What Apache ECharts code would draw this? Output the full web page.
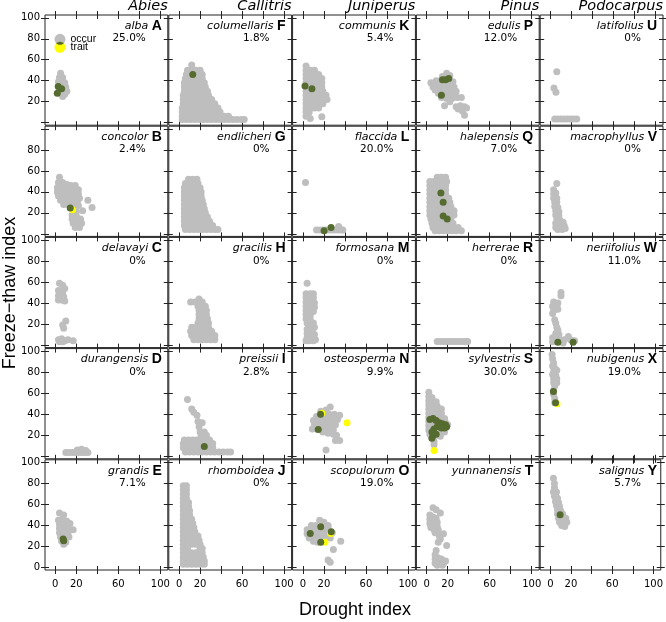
<!DOCTYPE html>
<html><head><meta charset="utf-8">
<script src="https://cdn.jsdelivr.net/npm/echarts@6/dist/echarts.min.js"></script>
<style>html,body{margin:0;padding:0;background:#fff}#c{width:666px;height:622px}</style>
</head><body><div id="c"></div>
<script>
const genera = ['Abies','Callitris','Juniperus','Pinus','Podocarpus'];
const species = ['alba','concolor','delavayi','durangensis','grandis',
  'columellaris','endlicheri','gracilis','preissii','rhomboidea',
  'communis','flaccida','formosana','osteosperma','scopulorum',
  'edulis','halepensis','herrerae','sylvestris','yunnanensis',
  'latifolius','macrophyllus','neriifolius','nubigenus','salignus'];
const letters = ['A','B','C','D','E','F','G','H','I','J','K','L','M','N','O','P','Q','R','S','T','U','V','W','X','Y'];
const percents = ['25.0%','2.4%','0%','0%','7.1%','1.8%','0%','0%','2.8%','0%','5.4%','20.0%','0%','9.9%','19.0%','12.0%','7.0%','0%','30.0%','0%','0%','0%','11.0%','19.0%','5.7%'];
const xTicks = [0,20,40,60,80,100];
const xLabelValues = [0,20,60,100];
const yTicks = [0,20,40,60,80,100];
const yLabelsByRow = [[20,40,60,80,100],[20,40,60,80],[20,40,60,80,100],[20,40,60,80,100],[0,20,40,60,80,100]];
const legendNames = ['occur','trait'];

// ---- Abies ----
const occur_alba = [[5,47],[4,43],[7,43],[3,39],[6,39],[9,38],[3,35],[7,35],[10,34],[4,31],[8,31],[11,30],[5,28],[9,27],[7,25]];
const green_alba = [[2.8,34.5],[6,32.3],[1.9,28.1]];
const yellow_alba = [];
const occur_concolor = [[4,54],[3,49],[7,49],[11,47],[15,46],[19,46],[2,44],[6,45],[10,43],[14,43],[18,42],[22,42],[2,40],[6,40],[10,39],[14,39],[18,38],[22,38],[3,36],[7,36],[11,35],[15,35],[19,34],[23,34],[5,32],[9,32],[13,31],[17,31],[21,31],[31,32],[8,28],[12,28],[18,27],[22,27],[35,25],[26,22],[20,21],[16,18],[20,17],[16,14],[20,13],[24,14],[17,10],[21,9],[25,10],[19,6],[23,6]];
const green_concolor = [[14.2,24.7]];
const yellow_concolor = [[16.4,23]];
const occur_delavayi = [[4,59],[7,57],[9,54],[3,52],[7,50],[3,47],[8,46],[3,43],[6,43],[9,42],[10,23],[7,19],[8,16],[3,5],[6,6],[9,4],[12,5],[17,4],[4,3],[7,3]];
const green_delavayi = [];
const yellow_delavayi = [];
const occur_durangensis = [[10,3.5],[13,3.5],[16,3.5],[19,3.5],[22,3.5],[25,3.5],[28,3.5],[31,3.5],[21,6],[25,6.5],[29,5.5]];
const green_durangensis = [];
const yellow_durangensis = [];
const occur_grandis = [[4,52],[8,50],[3,45],[7,46],[11,44],[14,42],[4,41],[8,41],[12,40],[17,36],[4,37],[8,37],[12,36],[4,33],[8,33],[12,32],[5,29],[9,29],[13,29],[6,25],[10,24],[8,22]];
const green_grandis = [[7.5,27],[8,25.5]];
const yellow_grandis = [];

// ---- Callitris ----
const occur_columellaris = [[12,55],
[8,50],[12,50],[16,50],[20,50],
[7,46],[11,46],[15,46],[19,46],[22,46],
[6,42],[10,42],[14,42],[18,42],[22,42],
[5,38],[9,38],[13,38],[17,38],[21,38],[24,38],
[5,34],[9,34],[13,34],[17,34],[21,34],[25,34],
[5,30],[9,30],[13,30],[17,30],[21,30],[25,30],[27,30],
[4,26],[8,26],[12,26],[16,26],[20,26],[24,26],[28,26],
[4,22],[8,22],[12,22],[16,22],[20,22],[24,22],[28,22],[31,22],
[4,18],[8,18],[12,18],[16,18],[20,18],[24,18],[28,18],[32,18],[34,18],
[3,14],[7,14],[11,14],[15,14],[19,14],[23,14],[27,14],[31,14],[35,14],[37,14],
[3,10],[7,10],[11,10],[15,10],[19,10],[23,10],[27,10],[31,10],[35,10],[39,10],
[3,6],[7,6],[11,6],[15,6],[19,6],[23,6],[27,6],[31,6],[35,6],[39,6],[43,6],[47,6],
[3,3],[7,3],[11,3],[15,3],[19,3],[23,3],[27,3],[31,3],[35,3],[39,3],[43,3],[47,3],[51,3],[55,3],[59,3],[62,3]];
const green_columellaris = [[13,46]];
const yellow_columellaris = [];
const occur_endlicheri = [[9,52],[13,52],[17,52],
[6,48],[10,48],[14,48],[18,48],
[5,44],[9,44],[13,44],[17,44],[20,44],
[5,40],[9,40],[13,40],[17,40],[21,40],
[5,36],[9,36],[13,36],[17,36],[21,36],
[5,32],[9,32],[13,32],[17,32],[21,32],[22,32],
[5,28],[9,28],[13,28],[17,28],[21,28],[23,28],
[5,24],[9,24],[13,24],[17,24],[21,24],[24,24],
[5,20],[9,20],[13,20],[17,20],[21,20],[25,20],
[5,16],[9,16],[13,16],[17,16],[21,16],[25,16],[27,16],
[5,12],[9,12],[13,12],[17,12],[21,12],[25,12],[29,12],
[5,8],[9,8],[13,8],[17,8],[21,8],[25,8],[29,8],[32,8],
[6,4],[10,4],[14,4],[18,4],[22,4],[26,4],[30,4],[34,4],[37,4]];
const green_endlicheri = [];
const yellow_endlicheri = [];
const occur_gracilis = [[19,44],
[11,41],[15,41],[19,41],[22,41],
[18,37],[22,37],[25,37],
[19,33],[23,33],[26,33],
[19,29],[23,29],[26,29],
[19,25],[23,25],[27,25],
[18,21],[22,21],[26,21],[28,21],
[12,17],[16,17],[20,17],[24,17],[28,17],
[11,13],[15,13],[19,13],[23,13],[27,13],[31,13],
[12,9],[16,9],[20,9],[24,9],[28,9],[32,9],[34,9],
[14,5],[18,5],[22,5],[26,5],[30,5],[34,5]];
const green_gracilis = [];
const yellow_gracilis = [];
const occur_preissii = [[8,54],[12,45],[14,42],[17,39],[18,33],[22,32],[19,28],[20,23],[24,23],[26,20],[21,19],
[5,15.5],[9,15.5],[13,15.5],[17,15.5],[21,15.5],[25,15.5],[29,15.5],
[4,12],[8,12],[12,12],[16,12],[20,12],[24,12],[28,12],[32,12],
[4,8],[8,8],[12,8],[16,8],[20,8],[28,8],[32,8],
[6,4],[10,4],[14,4],[18,4],[22,4],[26,4],[30,4],[34,4],[38,4],[42,4],[46,4],[49,4]];
const green_preissii = [[24,9.2]];
const yellow_preissii = [];
const occur_rhomboidea = [[4,78],[7,78],[4,74],[7,74],[4,70],[7,70],[4,66],[7,66],
[4,62],[7,62],[9,62],[4,58],[7,58],[9,58],[4,54],[7,54],[10,54],[4,50],[7,50],[10,50],
[4,46],[7,46],[10,46],[12,46],[4,42],[7,42],[11,42],[13,42],[4,38],[8,38],[12,38],[14,38],
[4,34],[8,34],[12,34],[15,34],[4,30],[8,30],[12,30],[16,30],[18,30],[4,26],[8,26],[12,26],[16,26],[19,26],
[4,22],[8,22],[12,22],[16,22],[20,22],[4,18],[8,18],[20,18],[22,18],
[4,14],[8,14],[12,14],[16,14],[20,14],[22,14],[4,10],[8,10],[12,10],[16,10],[20,10],[23,10],
[4,6],[8,6],[12,6],[16,6],[20,6],[24,6],[4,3],[8,3],[12,3],[16,3],[20,3],[24,3]];
const green_rhomboidea = [];
const yellow_rhomboidea = [];

// ---- Juniperus ----
const occur_communis = [[3,54],[3,50],[7,50],[11,50],
[3,46],[7,46],[11,46],[15,46],[3,42],[7,42],[11,42],[15,42],[18,42],
[3,38],[7,38],[11,38],[15,38],[18,38],[3,34],[7,34],[11,34],[15,34],[18,34],
[3,30],[7,30],[11,30],[15,30],[19,30],[3,26],[7,26],[11,26],[15,26],[19,26],[22,26],
[3,22],[7,22],[11,22],[15,22],[19,22],[23,22],[3,18],[7,18],[11,18],[15,18],[19,18],
[3,14],[7,14],[11,14],[15,14],[3,10],[6,10],[3,6],[7,4],[18,5.5]];
const green_communis = [[2,35],[8.6,32.2]];
const yellow_communis = [];
const occur_flaccida = [[2.5,49],[13,3.5],[16,3.5],[19,3.5],[22,3.5],[25,3.5],[28,3.5],[31,3.5],[34,3.5],[37,3.5],[38,3.5],[34,7]];
const green_flaccida = [[20.2,3],[26.8,6.1]];
const yellow_flaccida = [];
const occur_formosana = [[4,59],[3,49],[7,49],[10,49],[3,45],[7,45],[10,45],[3,41],[7,41],[11,40],[3,37],[7,37],[11,36],[3,33],[7,33],[10,32],[3,29],[7,28],[3,25],[7,24],[10,21],[4,21],[7,18],[11,17],[4,15],[9,13],[4,11],[11,10],[4,7],[8,8],[3,4],[6,4],[10,4],[12,5]];
const green_formosana = [];
const yellow_formosana = [];
const occur_osteosperma = [[26,47],[22,44],[17,43],[13,38],[17,38],[21,39],[25,40],[30,40],[35,39],[10,34],[14,34],[18,34],[22,35],[26,35],[30,35],[33,35],[11,30],[15,30],[19,30],[23,31],[27,31],[31,30],[9,26],[13,26],[17,27],[21,27],[25,27],[29,25],[19,23],[24,22],[29,21],[32,20],[35,15],[31,15],[22,6]];
const green_osteosperma = [[16.8,40],[14.6,25.5]];
const yellow_osteosperma = [[42,32],[18,41]];
const occur_scopulorum = [[16,45],[20,43],[8,40],[12,40],[24,40],[4,36],[8,36],[12,36],[16,36],[20,36],[24,37],[4,32],[8,32],[12,32],[16,32],[20,32],[24,32],[28,33],[6,28],[10,28],[14,28],[18,28],[22,28],[26,28],[10,25],[14,24],[29,17],[36,25],[24,7],[26,5]];
const green_scopulorum = [[7,32.4],[17,38.7],[17,24],[27,34]];
const yellow_scopulorum = [[21,24],[26.5,32.4]];

// ---- Pinus ----
const occur_edulis = [[19,47],[15,44],[22,45],[4,38],[9,40],[13,40],[17,40],[21,41],[25,39],[6,34],[10,36],[14,36],[18,36],[22,35],[26,34],[8,31],[12,32],[16,32],[20,31],[24,31],[28,30],[11,28],[15,28],[19,27],[23,27],[27,26],[14,24],[19,23],[24,23],[29,24],[33,24],[22,20],[17,16],[28,15],[32,16],[36,15],[38,14],[34,11],[36,7],[30,13]];
const green_edulis = [[15,41],[18,41],[21,42],[14,26]];
const yellow_edulis = [];
const occur_halepensis = [[10,54],[14,54],[18,54],
[3,50],[7,50],[11,50],[15,50],[19,50],[3,46],[7,46],[11,46],[15,46],[18,46],
[3,42],[7,42],[11,42],[15,42],[18,42],[3,38],[7,38],[10,38],[18,38],
[3,34],[7,34],[11,34],[14,34],[18,34],[21,34],[3,30],[7,30],[11,30],[19,30],[22,30],
[3,26],[7,26],[11,26],[15,26],[19,26],[23,26],[3,22],[7,22],[11,22],[15,22],[19,22],[23,22],[26,22],
[3,18],[7,18],[11,18],[14,18],[22,18],[26,18],[4,14],[8,14],[11,14],[15,14],[23,14],
[5,10],[9,10],[13,10],[17,10],[21,10],[25,10],[6,6],[10,6],[14,6],[18,6],[22,6],[26,6],[30,6],
[8,3],[12,3],[16,3],[20,3],[24,3],[28,3],[33,3]];
const green_halepensis = [[13.5,39],[15.7,30],[15.7,17],[19.5,14]];
const yellow_halepensis = [];
const occur_herrerae = [[10,3.3],[13,3.3],[16,3.3],[19,3.3],[22,3.3],[25,3.3],[28,3.3],[31,3.3],[34,3.3],[37,3.3],[39,3.3]];
const green_herrerae = [];
const yellow_herrerae = [];
const occur_sylvestris = [[2,61],[2,57],[5,56],[2,53],[6,52],[9,52],[2,49],[6,48],[10,48],[2,45],[6,44],[10,44],[14,45],[2,41],[6,40],[10,40],[14,41],[2,37],[6,36],[10,36],[14,37],[17,36],[2,33],[6,32],[14,33],[18,32],[20,30],[2,29],[10,29],[18,27],[2,25],[6,24],[14,24],[17,23],[3,21],[9,20],[13,19],[5,17],[7,14],[7,11]];
const green_sylvestris = [[3,35],[6,36],[9,34],[12,32],[15,31],[18,30],[19,28],[17,27],[14,27],[10,28],[7,26],[5,23],[6,20],[9,21],[5,17]];
const yellow_sylvestris = [[7,5.5]];
const occur_yunnanensis = [[6,57],[9,55],[13,52],[3,50],[6,48],[9,47],[3,46],[6,44],[10,43],[3,42],[7,40],[10,39],[4,38],[7,36],[11,36],[8,33],[16,32],[12,30],[13,27],[11,24],[19,21],[9,16],[8,12],[8,8],[11,9],[14,8],[8,4],[12,4],[16,4],[18,6],[10,2],[15,2]];
const green_yunnanensis = [];
const yellow_yunnanensis = [];

// ---- Podocarpus ----
const occur_latifolius = [[6,48.6],[3.3,33],[5.2,29],[4,3.5],[7,3.5],[10,3.5],[13,3.5],[16,3.5],[19,3.5],[22,3.5],[25,3.5]];
const green_latifolius = [];
const yellow_latifolius = [];
const occur_macrophyllus = [[6,48],[3,42],[3,38],[5,39],[3,34],[6,34],[4,30],[6,30],[4,26],[7,25],[5,22],[8,21],[5,18],[8,17],[6,14],[9,13],[12,11],[5,10],[8,9],[13,8],[5,6],[9,6],[14,5],[7,4],[11,4]];
const green_macrophyllus = [];
const yellow_macrophyllus = [];
const occur_neriifolius = [[10,50],[10,47],[3,41],[7,40],[2,37],[6,37],[3,33],[7,34],[2,30],[4,24],[5,21],[6,17],[7,14],[5,11],[8,10],[2,7],[5,5],[9,5],[13,5],[17,8],[19,5],[23,4],[2,3],[12,2]];
const green_neriifolius = [[7,2.6],[21.5,2.6]];
const yellow_neriifolius = [];
const occur_nubigenus = [[1.5,97],[2,93],[3,89],[2,86],[4,84],[3,81],[6,82],[2,78],[5,77],[3,74],[6,74],[3,70],[6,70],[4,67],[3,63],[3,59],[4,55],[4,51]];
const green_nubigenus = [[2.8,61.8],[4.8,51]];
const yellow_nubigenus = [[6.2,50]];
const occur_salignus = [[3,85],[4,80],[4,76],[3,72],[6,72],[4,68],[7,66],[5,63],[8,62],[6,59],[9,58],[7,55],[10,54],[7,51],[12,51],[8,47],[12,47],[15,47],[9,43],[13,43],[16,43],[11,40],[14,39]];
const green_salignus = [[9.5,50.3]];
const yellow_salignus = [];

const occurData = [occur_alba,occur_concolor,occur_delavayi,occur_durangensis,occur_grandis,
  occur_columellaris,occur_endlicheri,occur_gracilis,occur_preissii,occur_rhomboidea,
  occur_communis,occur_flaccida,occur_formosana,occur_osteosperma,occur_scopulorum,
  occur_edulis,occur_halepensis,occur_herrerae,occur_sylvestris,occur_yunnanensis,
  occur_latifolius,occur_macrophyllus,occur_neriifolius,occur_nubigenus,occur_salignus];
const greenData = [green_alba,green_concolor,green_delavayi,green_durangensis,green_grandis,
  green_columellaris,green_endlicheri,green_gracilis,green_preissii,green_rhomboidea,
  green_communis,green_flaccida,green_formosana,green_osteosperma,green_scopulorum,
  green_edulis,green_halepensis,green_herrerae,green_sylvestris,green_yunnanensis,
  green_latifolius,green_macrophyllus,green_neriifolius,green_nubigenus,green_salignus];
const yellowData = [yellow_alba,yellow_concolor,yellow_delavayi,yellow_durangensis,yellow_grandis,
  yellow_columellaris,yellow_endlicheri,yellow_gracilis,yellow_preissii,yellow_rhomboidea,
  yellow_communis,yellow_flaccida,yellow_formosana,yellow_osteosperma,yellow_scopulorum,
  yellow_edulis,yellow_halepensis,yellow_herrerae,yellow_sylvestris,yellow_yunnanensis,
  yellow_latifolius,yellow_macrophyllus,yellow_neriifolius,yellow_nubigenus,yellow_salignus];

const GRAY = '#bebebe', YEL = '#ffff00', GRN = '#556b2f', LINE = '#222';
const XMIN = -9.8, XMAX = 107.1, YMIN = -2.5, YMAX = 102.7;
const GL = 45, GT = 15, PW = 123.8, PH = 111.2, GW = 122.8, GH = 110.2;

const grids = [], xAxes = [], yAxes = [], series = [], elements = [];
const tickLine = {color: LINE, width: 1};
const lblFont = {fontSize: 10, fontFamily: 'DejaVu Sans', color: '#000'};

for (let c = 0; c < 5; c++) {
  for (let r = 0; r < 5; r++) {
    const k = c * 5 + r;
    const left = GL + c * PW, top = GT + r * PH;
    grids.push({left: left, top: top, width: GW, height: GH, show: true, borderColor: LINE, borderWidth: 1,
      backgroundColor: 'rgba(0,0,0,0)', containLabel: false});
    const xb = {gridIndex: k, type: 'value', min: XMIN, max: XMAX, offset: -4,
      axisLine: {show: false, onZero: false}, splitLine: {show: false},
      axisTick: {show: true, length: 8, customValues: xTicks, lineStyle: tickLine}};
    xAxes.push(Object.assign({}, xb, {position: 'bottom',
      axisLabel: r === 4 ? Object.assign({show: true, customValues: xLabelValues, margin: 13.5}, lblFont) : {show: false}}));
    xAxes.push(Object.assign({}, xb, {position: 'top', axisLabel: {show: false}}));
    const yb = {gridIndex: k, type: 'value', min: YMIN, max: YMAX, offset: -4,
      axisLine: {show: false, onZero: false}, splitLine: {show: false},
      axisTick: {show: true, length: 8, customValues: yTicks, lineStyle: tickLine}};
    yAxes.push(Object.assign({}, yb, {position: 'left',
      axisLabel: c === 0 ? Object.assign({show: true, customValues: yLabelsByRow[r], margin: 9}, lblFont) : {show: false}}));
    yAxes.push(Object.assign({}, yb, {position: 'right', axisLabel: {show: false}}));

    series.push({type: 'scatter', name: 'occur', xAxisIndex: 2 * k, yAxisIndex: 2 * k, data: occurData[k],
      symbol: 'circle', symbolSize: 7, itemStyle: {color: GRAY, opacity: 1}, silent: true, z: 2, animation: false});
    series.push({type: 'scatter', name: 'trait', xAxisIndex: 2 * k, yAxisIndex: 2 * k, data: yellowData[k],
      symbol: 'circle', symbolSize: 7, itemStyle: {color: YEL, opacity: 1}, silent: true, z: 3, animation: false});
    series.push({type: 'scatter', name: 'trait', xAxisIndex: 2 * k, yAxisIndex: 2 * k, data: greenData[k],
      symbol: 'circle', symbolSize: 7, itemStyle: {color: GRN, opacity: 1}, silent: true, z: 4, animation: false});

    const R = left + GW;
    elements.push({type: 'text', x: R - 6, y: top + 11, z: 50,
      style: {text: '{n|' + species[k] + ' }{b|' + letters[k] + '}', align: 'right', verticalAlign: 'middle',
        rich: {n: {fontStyle: 'italic', fontSize: 11, fontFamily: 'DejaVu Sans', fill: '#000'},
               b: {fontWeight: 'bold', fontSize: 14, fontFamily: 'Liberation Sans', fill: '#000'}}}});
    elements.push({type: 'text', x: R - 22, y: top + 23.5, z: 50,
      style: {text: percents[k], align: 'right', verticalAlign: 'middle', fontSize: 10.5, fontFamily: 'DejaVu Sans', fill: '#000'}});
  }
  elements.push({type: 'text', x: GL + c * PW + GW, y: 6.5, z: 50,
    style: {text: genera[c], align: 'right', verticalAlign: 'middle', fontStyle: 'italic', fontSize: 14.5, fontFamily: 'DejaVu Sans', fill: '#000'}});
}
elements.push({type: 'text', x: 355, y: 610, z: 50,
  style: {text: 'Drought index', align: 'center', verticalAlign: 'middle', fontSize: 18, fontFamily: 'Liberation Sans', fill: '#000'}});
elements.push({type: 'text', x: 10, y: 293, rotation: Math.PI / 2, z: 50,
  style: {text: 'Freeze\u2212thaw index', align: 'center', verticalAlign: 'middle', fontSize: 18, fontFamily: 'Liberation Sans', fill: '#000'}});

// overlap lens of the two legend symbols (legend decoration)
const LC1 = [60, 39.3], LC2 = [60, 47.3], LR = 5.5;
const a0 = Math.asin(4 / LR);
const lens = [];
for (let i = 0; i <= 12; i++) { const a = a0 + (Math.PI - 2 * a0) * i / 12; lens.push([LC2[0] + LR * Math.cos(a), LC2[1] - LR * Math.sin(a)]); }
for (let i = 0; i <= 12; i++) { const a = Math.PI - a0 - (Math.PI - 2 * a0) * i / 12; lens.push([LC1[0] + LR * Math.cos(a), LC1[1] + LR * Math.sin(a)]); }
elements.push({type: 'polygon', z: 100, shape: {points: lens}, style: {fill: GRN}});

const chart = echarts.init(document.getElementById('c'), null, {renderer: 'canvas'});
chart.setOption({
  animation: false,
  backgroundColor: '#fff',
  grid: grids,
  xAxis: xAxes,
  yAxis: yAxes,
  legend: {orient: 'vertical', left: 54.5, top: 33.8, padding: 0, itemWidth: 11, itemHeight: 11, itemGap: -3,
    icon: 'circle', selectedMode: false,
    data: [{name: legendNames[0], itemStyle: {color: GRAY}}, {name: legendNames[1], itemStyle: {color: YEL}}],
    textStyle: {fontFamily: 'Liberation Sans', fontSize: 10.5, color: '#000', lineHeight: 11}},
  graphic: {elements: elements},
  series: series
});
</script>
</body></html>
